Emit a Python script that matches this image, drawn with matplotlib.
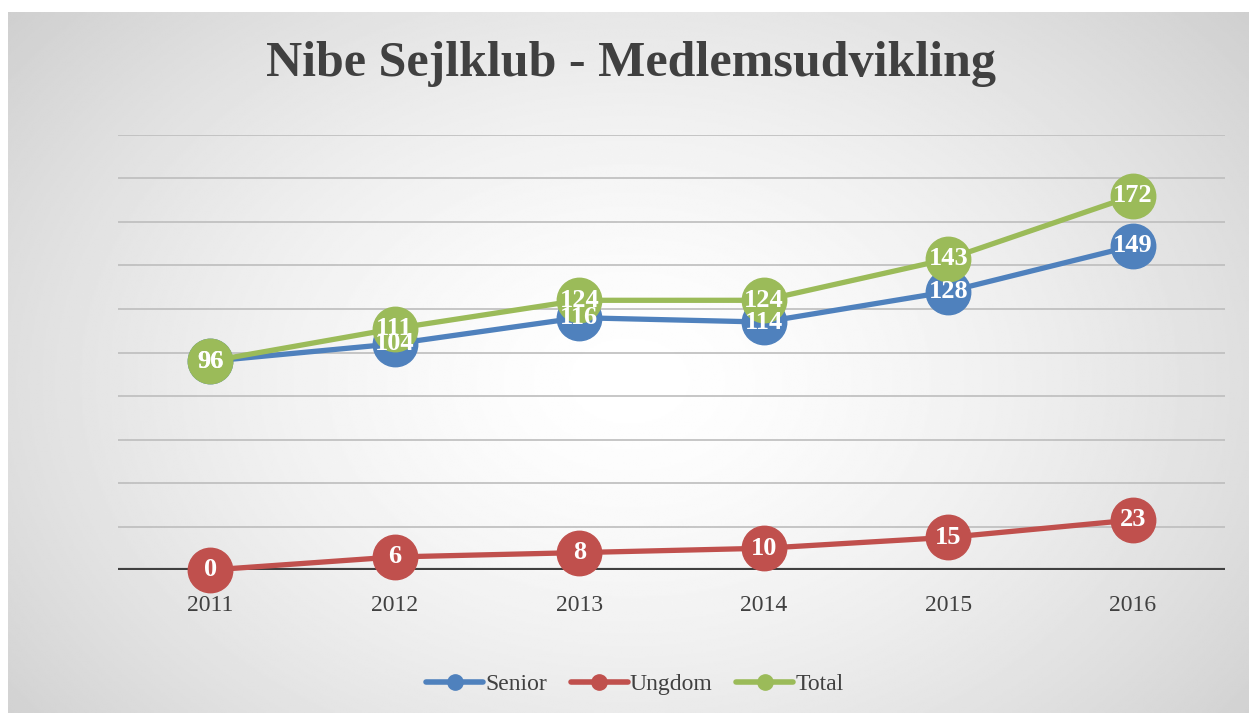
import matplotlib
matplotlib.use("Agg")
import matplotlib.pyplot as plt
import numpy as np

years = ["2011", "2012", "2013", "2014", "2015", "2016"]
senior = [96, 104, 116, 114, 128, 149]
ungdom = [0, 6, 8, 10, 15, 23]
total = [96, 111, 124, 124, 143, 172]

series_names = ["Senior", "Ungdom", "Total"]
series_colors = ["#4F81BD", "#C0504D", "#9BBB59"]

W, H = 1249, 715
fig = plt.figure(figsize=(W / 100, H / 100), dpi=100)
fig.patch.set_facecolor("white")

# radial gradient background box
bg = fig.add_axes([8 / W, 2 / H, (W - 8) / W, (H - 14) / H])
bg.set_axis_off()
yy, xx = np.mgrid[0:400, 0:700]
cx, cy = 350, 210
r = np.sqrt(((xx - cx) / 400.0) ** 2 + ((yy - cy) / 290.0) ** 2)
shade = 1.0 - 0.23 * np.clip(r, 0, 1.3) ** 1.5 / 1.3 ** 1.5
bg.imshow(shade, cmap="gray", vmin=0, vmax=1, aspect="auto",
          extent=[0, 1, 0, 1], interpolation="bilinear")
bg.set_xlim(0, 1)
bg.set_ylim(0, 1)

ax = fig.add_axes([118 / W, 1 - 570 / H, 1107 / W, 435 / H])
ax.patch.set_alpha(0)
x = np.arange(len(years))

for v in range(20, 201, 20):
    ax.axhline(v, color="#BDBDBD", lw=1.2, zorder=1)
ax.axhline(0, color="#404040", lw=3, zorder=2)

for vals, name, col, z in zip([senior, ungdom, total], series_names, series_colors, [3, 4, 5]):
    ax.plot(x, vals, color=col, lw=3.8, marker="o", markersize=32,
            label=name, zorder=z, solid_capstyle="round", clip_on=False)

for vals in [senior, ungdom, total]:
    for xi, v in zip(x, vals):
        ax.text(xi, v, str(v), ha="center", va="center", color="white",
                fontsize=19, fontweight="bold", family="Liberation Serif",
                zorder=10)

ax.set_xlim(-0.5, 5.5)
ax.set_ylim(0, 200)
ax.set_yticks([])
ax.set_xticks(x)
ax.set_xticklabels(years, family="Liberation Serif", fontsize=17, color="#404040")
ax.tick_params(axis="x", length=0, pad=18)
for s in ax.spines.values():
    s.set_visible(False)

fig.text(0.505, 1 - 64 / H, "Nibe Sejlklub - Medlemsudvikling", ha="center",
         va="center", fontsize=36, fontweight="bold", family="Liberation Serif",
         color="#404040")

handles = [plt.Line2D([0], [0], color=c, lw=4, marker="o", markersize=11,
                      solid_capstyle="round") for c in series_colors]
fig.legend(handles, series_names, loc="center", bbox_to_anchor=(635 / W, 1 - 684 / H),
           ncol=3, frameon=False, handlelength=2.4, handletextpad=0.1,
           columnspacing=1.0,
           prop={"family": "Liberation Serif", "size": 17}, labelcolor="#404040")

fig.savefig("out.png", dpi=100)
